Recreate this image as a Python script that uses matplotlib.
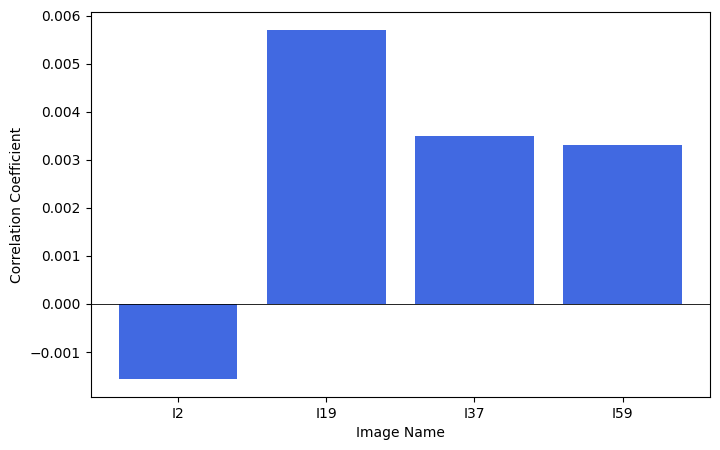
import matplotlib
matplotlib.use('Agg')
import matplotlib.pyplot as plt

images = ['I2', 'I19', 'I37', 'I59']
corr = [-0.00157, 0.00571, 0.0035, 0.0033]

fig, ax = plt.subplots(figsize=(7.2, 4.5), dpi=100)
fig.subplots_adjust(left=0.126, right=0.986, top=0.973, bottom=0.118)

ax.bar(images, corr, color='royalblue')
ax.axhline(0, color='black', linewidth=0.6)
ax.set_xlabel('Image Name')
ax.set_ylabel('Correlation Coefficient')

fig.savefig('out.png', dpi=100)
